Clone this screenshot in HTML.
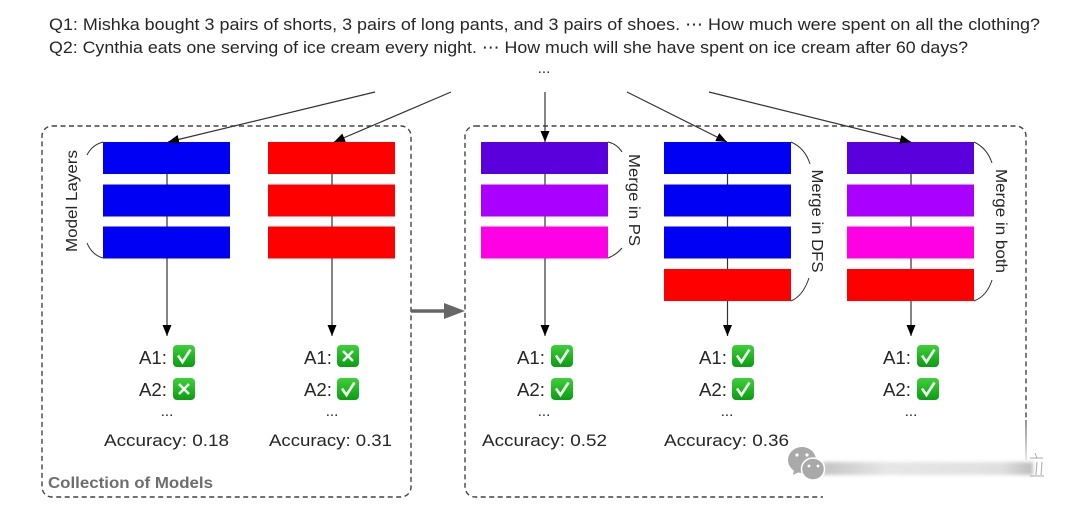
<!DOCTYPE html>
<html>
<head>
<meta charset="utf-8">
<style>
html,body{margin:0;padding:0;background:#fff;width:1080px;height:508px;overflow:hidden}
svg{display:block}
text{font-family:"Liberation Sans","DejaVu Sans",sans-serif;fill:#262626}
</style>
</head>
<body>
<svg width="1080" height="508" viewBox="0 0 1080 508" xmlns="http://www.w3.org/2000/svg">
<defs>
<marker id="h" viewBox="0 0 10 10" refX="10" refY="5" markerWidth="11" markerHeight="9" markerUnits="userSpaceOnUse" orient="auto" preserveAspectRatio="none"><path d="M0 0L10 5L0 10z" fill="#000"/></marker>
<filter id="b" x="-20%" y="-100%" width="140%" height="300%"><feGaussianBlur stdDeviation="1.800"/></filter>
<filter id="s" x="-5%" y="-5%" width="110%" height="110%"><feGaussianBlur stdDeviation="0.35"/></filter>
<linearGradient id="g" x1="0" y1="0" x2="0" y2="1"><stop offset="0" stop-color="#3fcf3a"/><stop offset="1" stop-color="#0c9c14"/></linearGradient>
<linearGradient id="wb" x1="0" y1="0" x2="1" y2="0"><stop offset="0" stop-color="#c4c4c4"/><stop offset=".3" stop-color="#e6e6e6"/><stop offset=".85" stop-color="#e0e0e0"/><stop offset="1" stop-color="#bdbdbd"/></linearGradient>
<linearGradient id="fade" x1="0" y1="0" x2="0" y2="1"><stop offset="0" stop-color="#666"/><stop offset="1" stop-color="#ddd"/></linearGradient>
<g id="ok"><rect x="0" y="0" width="22" height="22" rx="4" fill="url(#g)"/><path d="M5 10.5L9.5 17L17.5 4.5" fill="none" stroke="#f2fff2" stroke-width="2.600"/></g>
<g id="no"><rect x="0" y="0" width="22" height="22" rx="4" fill="url(#g)"/><path d="M6 6L16 16M16 6L6 16" fill="none" stroke="#f2fff2" stroke-width="2.600"/></g>
</defs>

<g filter="url(#s)">
<!-- header -->
<text x="49" y="30" font-size="17" textLength="991" lengthAdjust="spacingAndGlyphs">Q1: Mishka bought 3 pairs of shorts, 3 pairs of long pants, and 3 pairs of shoes. ⋯ How much were spent on all the clothing?</text>
<text x="49" y="53" font-size="17" textLength="919" lengthAdjust="spacingAndGlyphs">Q2: Cynthia eats one serving of ice cream every night. ⋯ How much will she have spent on ice cream after 60 days?</text>
<text x="544" y="73" font-size="15" text-anchor="middle">...</text>

<!-- dashed boxes -->
<rect x="42" y="126" width="369" height="371" rx="10" fill="none" stroke="#444" stroke-width="1.4" stroke-dasharray="5 3.5"/>
<rect x="465" y="126" width="561" height="371" rx="10" fill="none" stroke="#444" stroke-width="1.4" stroke-dasharray="5 3.5"/>

<!-- stem lines -->
<g stroke="#333" stroke-width="1.2" fill="none">
<line x1="167" y1="174" x2="167" y2="336" marker-end="url(#h)"/>
<line x1="332" y1="174" x2="332" y2="336" marker-end="url(#h)"/>
<line x1="545" y1="174" x2="545" y2="336" marker-end="url(#h)"/>
<line x1="727.500" y1="174" x2="727.500" y2="336" marker-end="url(#h)"/>
<line x1="911" y1="174" x2="911" y2="336" marker-end="url(#h)"/>
</g>

<!-- bars -->
<g fill="#0000f5">
<rect x="103" y="142" width="127" height="32"/><rect x="103" y="184.500" width="127" height="32"/><rect x="103" y="226.500" width="127" height="32"/>
<rect x="664" y="142" width="127" height="32"/><rect x="664" y="184.500" width="127" height="32"/><rect x="664" y="226.500" width="127" height="32"/>
</g>
<g fill="#ff0000">
<rect x="268" y="142" width="127" height="32"/><rect x="268" y="184.500" width="127" height="32"/><rect x="268" y="226.500" width="127" height="32"/>
<rect x="664" y="269" width="127" height="32"/><rect x="847" y="269" width="127" height="32"/>
</g>
<g>
<rect x="481" y="142" width="127" height="32" fill="#5a00dc"/><rect x="481" y="184.500" width="127" height="32" fill="#aa00ff"/><rect x="481" y="226.500" width="127" height="32" fill="#ff00e4"/>
<rect x="847" y="142" width="127" height="32" fill="#5a00dc"/><rect x="847" y="184.500" width="127" height="32" fill="#aa00ff"/><rect x="847" y="226.500" width="127" height="32" fill="#ff00e4"/>
</g>

<!-- top arrows -->
<g stroke="#333" stroke-width="1.2" fill="none">
<line x1="375" y1="92" x2="168" y2="142" marker-end="url(#h)"/>
<line x1="451" y1="92" x2="334" y2="142" marker-end="url(#h)"/>
<line x1="545" y1="92" x2="545" y2="142" marker-end="url(#h)"/>
<line x1="627" y1="92" x2="727" y2="142" marker-end="url(#h)"/>
<line x1="709" y1="92" x2="911" y2="142" marker-end="url(#h)"/>
</g>

<!-- transition arrow -->
<line x1="411" y1="311" x2="448" y2="311" stroke="#666" stroke-width="3.500"/>
<path d="M444 303L465 311L444 319z" fill="#666"/>

<!-- brackets -->
<g stroke="#333" stroke-width="1" fill="none">
<path d="M103 142Q92 145 87 155"/><path d="M103 258Q92 255 87 243"/>
<path d="M608 142Q617 144 622 152"/><path d="M608 258Q616 255 622 248"/>
<path d="M791 142Q805 148 810 164"/><path d="M791 301Q803 296 809 278"/>
<path d="M974 142Q987 148 992 163"/><path d="M974 301Q987 296 992 280"/>
</g>

<!-- rotated labels -->
<text transform="translate(77,201) rotate(-90)" font-size="16" text-anchor="middle" textLength="102" lengthAdjust="spacingAndGlyphs">Model Layers</text>
<text transform="translate(629,200) rotate(90)" font-size="16" text-anchor="middle" textLength="92" lengthAdjust="spacingAndGlyphs">Merge in PS</text>
<text transform="translate(812,221) rotate(90)" font-size="16" text-anchor="middle" textLength="103" lengthAdjust="spacingAndGlyphs">Merge in DFS</text>
<text transform="translate(996,221) rotate(90)" font-size="16" text-anchor="middle" textLength="104" lengthAdjust="spacingAndGlyphs">Merge in both</text>

<!-- answers -->
<g font-size="18">
<text x="139" y="364" textLength="28" lengthAdjust="spacingAndGlyphs">A1:</text><text x="139" y="396" textLength="28" lengthAdjust="spacingAndGlyphs">A2:</text>
<text x="304" y="364" textLength="28" lengthAdjust="spacingAndGlyphs">A1:</text><text x="304" y="396" textLength="28" lengthAdjust="spacingAndGlyphs">A2:</text>
<text x="517" y="364" textLength="28" lengthAdjust="spacingAndGlyphs">A1:</text><text x="517" y="396" textLength="28" lengthAdjust="spacingAndGlyphs">A2:</text>
<text x="699" y="364" textLength="28" lengthAdjust="spacingAndGlyphs">A1:</text><text x="699" y="396" textLength="28" lengthAdjust="spacingAndGlyphs">A2:</text>
<text x="883" y="364" textLength="28" lengthAdjust="spacingAndGlyphs">A1:</text><text x="883" y="396" textLength="28" lengthAdjust="spacingAndGlyphs">A2:</text>
</g>
<use href="#ok" x="173" y="345"/><use href="#no" x="173" y="378"/>
<use href="#no" x="337" y="345"/><use href="#ok" x="337" y="378"/>
<use href="#ok" x="551" y="345"/><use href="#ok" x="551" y="378"/>
<use href="#ok" x="732" y="345"/><use href="#ok" x="732" y="378"/>
<use href="#ok" x="917" y="345"/><use href="#ok" x="917" y="378"/>

<g font-size="15" text-anchor="middle">
<text x="167" y="416">...</text><text x="332" y="416">...</text><text x="544" y="416">...</text><text x="727" y="416">...</text><text x="911" y="416">...</text>
</g>
<g font-size="17">
<text x="104" y="446" textLength="125" lengthAdjust="spacingAndGlyphs">Accuracy: 0.18</text>
<text x="269" y="446" textLength="123" lengthAdjust="spacingAndGlyphs">Accuracy: 0.31</text>
<text x="482" y="446" textLength="125" lengthAdjust="spacingAndGlyphs">Accuracy: 0.52</text>
<text x="664" y="446" textLength="125" lengthAdjust="spacingAndGlyphs">Accuracy: 0.36</text>
</g>
<text x="48" y="488" font-size="16" font-weight="bold" style="fill:#6e6e6e" textLength="165" lengthAdjust="spacingAndGlyphs">Collection of Models</text>

<!-- watermark -->
<rect x="823" y="420" width="210" height="85" fill="#fff"/>
<rect x="1025.300" y="420" width="1.400" height="40" fill="url(#fade)"/>
<rect x="823" y="462" width="210" height="13" fill="url(#wb)" filter="url(#b)"/>
<ellipse cx="802" cy="460" rx="14" ry="13" fill="#a9a9a9"/>
<path d="M794 470L793 475L801 471z" fill="#a9a9a9"/>
<ellipse cx="813" cy="469" rx="11.500" ry="11" fill="#a9a9a9" stroke="#fff" stroke-width="1.500"/>
<circle cx="797" cy="455" r="1.600" fill="#fff"/><circle cx="807" cy="455" r="1.600" fill="#fff"/>
<circle cx="809" cy="466" r="1.400" fill="#fff"/><circle cx="818" cy="466" r="1.400" fill="#fff"/>
<g stroke="#aaa" stroke-width="1" fill="none">
<path d="M1030 458H1043M1030 476H1044M1035 453L1037 458M1037 462L1036 475M1042 462L1041 475"/>
</g>
</g>
</svg>
</body>
</html>
